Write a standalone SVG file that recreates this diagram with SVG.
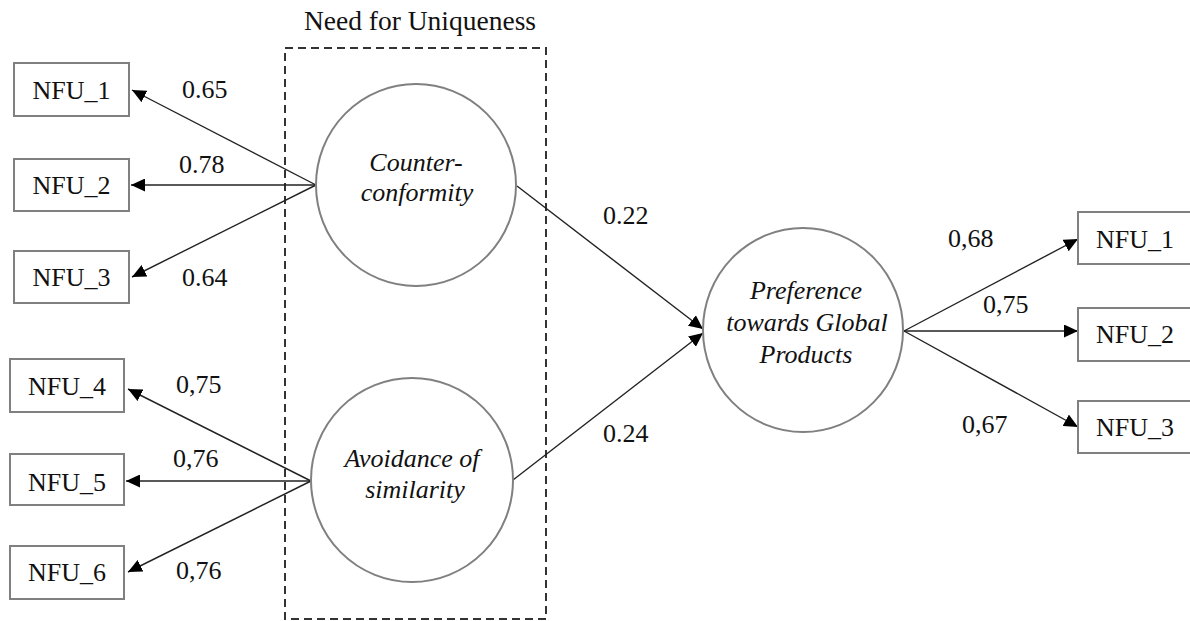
<svg xmlns="http://www.w3.org/2000/svg" width="1190" height="621" viewBox="0 0 1190 621">
<style>
.box{fill:#fff;stroke:#808080;stroke-width:2}
.lat{fill:#fff;stroke:#808080;stroke-width:2}
text{font-family:'Liberation Serif','Times New Roman',Times,serif;fill:#111}
.t{font-size:26px}
.ttl{font-size:27.5px;text-anchor:middle}
.c{text-anchor:middle}
.i{font-size:26px;font-style:italic;text-anchor:middle}
.e{fill:none;stroke:#222;stroke-width:1.4;marker-end:url(#ah)}
.dash{fill:none;stroke:#333;stroke-width:2;stroke-dasharray:8 5}
</style>
<defs>
<marker id="ah" viewBox="0 0 14 13" refX="14" refY="6.5" markerWidth="14" markerHeight="13" markerUnits="userSpaceOnUse" orient="auto">
<path d="M0,0 L14,6.5 L0,13 z" fill="#000"/>
</marker>
</defs>
<rect width="1190" height="621" fill="#fff"/>
<g id="group-nfu">
<rect class="dash" x="285" y="48" width="261" height="571"/>
<text class="ttl" x="420" y="30">Need for Uniqueness</text>
</g>
<g id="connectors">
<line class="e" x1="316" y1="185" x2="132" y2="90"/>
<line class="e" x1="316" y1="185" x2="131" y2="185"/>
<line class="e" x1="316" y1="185" x2="132" y2="277"/>
<line class="e" x1="311" y1="481" x2="128" y2="389"/>
<line class="e" x1="311" y1="481" x2="126" y2="481"/>
<line class="e" x1="311" y1="481" x2="128" y2="572"/>
<line class="e" x1="517" y1="186" x2="703" y2="329"/>
<line class="e" x1="513" y1="480" x2="703" y2="333"/>
<line class="e" x1="904" y1="331" x2="1078" y2="239"/>
<line class="e" x1="904" y1="331" x2="1078" y2="331"/>
<line class="e" x1="904" y1="331" x2="1078" y2="427"/>
<text class="t" x="182" y="98">0.65</text>
<text class="t" x="179" y="173">0.78</text>
<text class="t" x="182" y="286">0.64</text>
<text class="t" x="176" y="393">0,75</text>
<text class="t" x="173" y="467">0,76</text>
<text class="t" x="176" y="579">0,76</text>
<text class="t" x="603" y="224">0.22</text>
<text class="t" x="603" y="442">0.24</text>
<text class="t" x="948" y="247">0,68</text>
<text class="t" x="983" y="313">0,75</text>
<text class="t" x="962" y="433">0,67</text>
</g>
<g id="counter-conformity">
<ellipse class="lat" cx="416" cy="185" rx="100" ry="101"/>
<text class="i" x="416" y="171">Counter-</text>
<text class="i" x="417" y="201">conformity</text>
</g>
<g id="avoidance-of-similarity">
<ellipse class="lat" cx="412" cy="480" rx="101" ry="102"/>
<text class="i" x="412" y="467">Avoidance of</text>
<text class="i" x="415" y="498">similarity</text>
</g>
<g id="preference">
<ellipse class="lat" cx="803" cy="330" rx="100" ry="102"/>
<text class="i" x="806" y="299">Preference</text>
<text class="i" x="807" y="331">towards Global</text>
<text class="i" x="806" y="363">Products</text>
</g>
<g id="nfu1-left"><rect class="box" x="14" y="63" width="115" height="53"/><text class="t c" x="71.5" y="99">NFU_1</text></g>
<g id="nfu2-left"><rect class="box" x="14" y="159" width="115" height="52"/><text class="t c" x="71.5" y="194">NFU_2</text></g>
<g id="nfu3-left"><rect class="box" x="14" y="251" width="115" height="52"/><text class="t c" x="71.5" y="286">NFU_3</text></g>
<g id="nfu4"><rect class="box" x="10" y="359" width="114" height="53"/><text class="t c" x="67" y="395">NFU_4</text></g>
<g id="nfu5"><rect class="box" x="10" y="454" width="114" height="51"/><text class="t c" x="67" y="491">NFU_5</text></g>
<g id="nfu6"><rect class="box" x="10" y="546" width="114" height="53"/><text class="t c" x="67" y="581">NFU_6</text></g>
<g id="nfu1-right"><rect class="box" x="1078" y="212" width="120" height="52"/><text class="t" x="1096" y="248">NFU_1</text></g>
<g id="nfu2-right"><rect class="box" x="1078" y="308" width="120" height="53"/><text class="t" x="1096" y="343">NFU_2</text></g>
<g id="nfu3-right"><rect class="box" x="1078" y="401" width="120" height="52"/><text class="t" x="1096" y="436">NFU_3</text></g>
</svg>
